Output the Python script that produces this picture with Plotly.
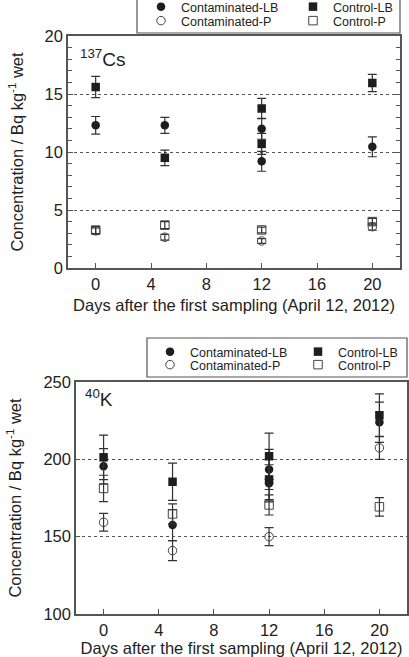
import plotly.graph_objects as go

# ---------------- data ----------------
days_lb = [0, 5, 12, 12, 20]
days_p = [0, 5, 12, 20]

# 137Cs
cs_cont_lb = [12.3, 12.3, 12.0, 9.2, 10.45]
cs_cont_lb_err = [0.76, 0.69, 0.9, 0.86, 0.86]
cs_ctrl_lb = [15.6, 9.5, 13.75, 10.7, 15.95]
cs_ctrl_lb_err = [0.92, 0.67, 0.87, 0.9, 0.75]
cs_cont_p = [3.2, 2.65, 2.33, 3.56]
cs_cont_p_err = [0.25, 0.25, 0.2, 0.3]
cs_ctrl_p = [3.27, 3.7, 3.28, 4.0]
cs_ctrl_p_err = [0.3, 0.3, 0.25, 0.28]

# 40K
k_cont_lb = [195.5, 157.5, 193.5, 184.5, 224.0]
k_cont_lb_err = [11.4, 10.0, 13.0, 12.0, 13.0]
k_ctrl_lb = [201.3, 185.5, 202.0, 187.0, 228.5]
k_ctrl_lb_err = [14.4, 12.0, 15.0, 13.0, 13.8]
k_cont_p = [159.3, 141.0, 150.0, 207.4]
k_cont_p_err = [5.7, 6.5, 5.8, 7.4]
k_ctrl_p = [181.2, 164.7, 170.5, 169.3]
k_ctrl_p_err = [8.5, 6.5, 6.5, 6.0]

x_ticks = [0, 4, 8, 12, 16, 20]
names = ["Contaminated-LB", "Control-LB", "Contaminated-P", "Control-P"]

FONT = "Liberation Sans, Arial, sans-serif"
INK = "#1e1e1e"
ERR = "#333333"
W, H = 409, 657

fig = go.Figure()

styles = [
    dict(symbol="circle", color=INK, line=dict(width=0, color=INK)),
    dict(symbol="square", color=INK, line=dict(width=0, color=INK)),
    dict(symbol="circle-open", color="#444444", line=dict(width=1, color="#444444")),
    dict(symbol="square-open", color="#444444", line=dict(width=1, color="#444444")),
]

def add_set(xs_list, ys_list, errs_list, xa, ya, legends):
    for name, xs, ys, es, st, lg in zip(names, xs_list, ys_list, errs_list, styles, legends):
        fig.add_trace(go.Scatter(
            x=xs, y=ys, mode="markers", name=name,
            xaxis=xa, yaxis=ya, legend=lg,
            marker=dict(size=8.5, symbol=st["symbol"], color=st["color"], line=st["line"]),
            error_y=dict(type="data", array=es, visible=True, color=ERR, thickness=1.2, width=4.5),
        ))

# each legend row is its own legend so the rows sit as close as in the original
add_set([days_lb, days_lb, days_p, days_p],
        [cs_cont_lb, cs_ctrl_lb, cs_cont_p, cs_ctrl_p],
        [cs_cont_lb_err, cs_ctrl_lb_err, cs_cont_p_err, cs_ctrl_p_err],
        "x", "y", ["legend", "legend", "legend2", "legend2"])
add_set([days_lb, days_lb, days_p, days_p],
        [k_cont_lb, k_ctrl_lb, k_cont_p, k_ctrl_p],
        [k_cont_lb_err, k_ctrl_lb_err, k_cont_p_err, k_ctrl_p_err],
        "x2", "y2", ["legend3", "legend3", "legend4", "legend4"])

def px_x(p):
    return p / W

def px_y(p):
    return (H - p) / H

axis_line = dict(showline=True, linecolor="#555555", linewidth=1.5, mirror=True)
tickfont = dict(family=FONT, size=16.5, color="#222222")
titlefont = dict(family=FONT, size=16.5, color="#222222")
ytitle = "Concentration / Bq kg<sup>-1</sup> wet"
xtitle = "Days after the first sampling (April 12, 2012)"

common_x = dict(range=[-2, 22], tickvals=x_ticks, ticks="inside", ticklen=5, tickcolor="#555555",
                showgrid=False, zeroline=False, tickfont=tickfont, **axis_line)

def row_legend(left_px, center_px, entry_w):
    return dict(orientation="h", x=px_x(left_px), xanchor="left", y=px_y(center_px), yanchor="middle",
                bgcolor="rgba(0,0,0,0)", borderwidth=0,
                font=dict(family=FONT, size=12.5, color="#222222"),
                entrywidth=entry_w, entrywidthmode="pixels")

fig.update_layout(
    width=W, height=H,
    margin=dict(l=0, r=0, t=0, b=0, autoexpand=False),
    paper_bgcolor="white", plot_bgcolor="white",
    showlegend=True,
    font=dict(family=FONT, color="#222222"),
    xaxis=dict(domain=[px_x(68), px_x(400)], anchor="y",
               title=dict(text=xtitle, font=titlefont, standoff=8), **common_x),
    yaxis=dict(domain=[px_y(268), px_y(36)], anchor="x", range=[0, 20], dtick=5,
               ticks="inside", ticklen=5, tickcolor="#555555", tickfont=tickfont,
               showgrid=True, gridcolor="#555555", griddash="dot", gridwidth=1, zeroline=False,
               minor=dict(dtick=1, ticks="inside", ticklen=4, tickcolor="#555555", showgrid=False),
               title=dict(text=ytitle, font=titlefont, standoff=17),
               showline=True, linecolor="#555555", linewidth=1.5, mirror="ticks"),
    xaxis2=dict(domain=[px_x(76), px_x(407)], anchor="y2",
                title=dict(text=xtitle, font=titlefont, standoff=12), **common_x),
    yaxis2=dict(domain=[px_y(614), px_y(382)], anchor="x2", range=[100, 250], dtick=50,
                ticks="inside", ticklen=4, tickcolor="#555555", tickfont=tickfont,
                showgrid=True, gridcolor="#555555", griddash="dot", gridwidth=1, zeroline=False,
                title=dict(text=ytitle, font=titlefont, standoff=18),
                **axis_line),
    legend=row_legend(141, 7, 107),
    legend2=row_legend(141, 21, 107),
    legend3=row_legend(150, 352, 103),
    legend4=row_legend(150, 365, 103),
    shapes=[
        dict(type="rect", xref="paper", yref="paper", x0=px_x(137), x1=px_x(400),
             y0=px_y(33), y1=px_y(-6), line=dict(color="#555555", width=1.2), fillcolor="white",
             layer="below"),
        dict(type="rect", xref="paper", yref="paper", x0=px_x(147), x1=px_x(407),
             y0=px_y(377), y1=px_y(338), line=dict(color="#555555", width=1.2), fillcolor="white",
             layer="below"),
    ],
    annotations=[
        dict(text="<sup>137</sup>Cs", xref="paper", yref="paper", x=px_x(78), y=px_y(58),
             xanchor="left", yanchor="middle", showarrow=False,
             font=dict(family=FONT, size=19, color="#222222")),
        dict(text="<sup>40</sup>K", xref="paper", yref="paper", x=px_x(83), y=px_y(398),
             xanchor="left", yanchor="middle", showarrow=False,
             font=dict(family=FONT, size=19, color="#222222")),
    ],
)

fig.write_html("out.html")
